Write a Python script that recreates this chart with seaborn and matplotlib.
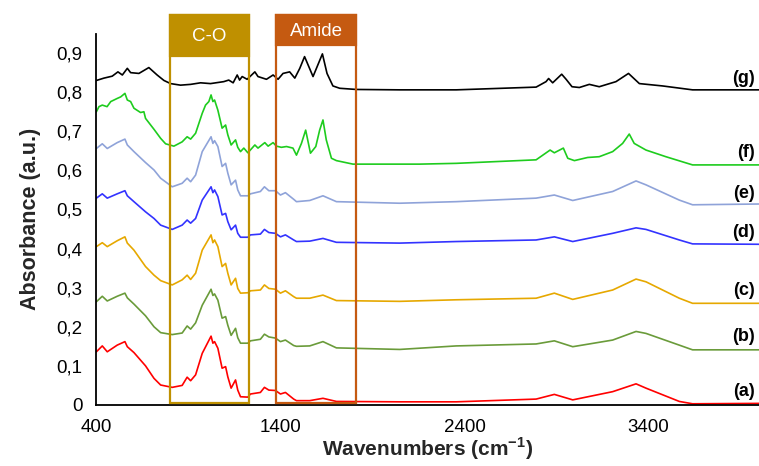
import matplotlib
matplotlib.use("Agg")
import matplotlib.pyplot as plt
import numpy as np
import pandas as pd
import seaborn as sns
from matplotlib.patches import Rectangle

# ---------------- data ----------------
WN_ABCDE = [400, 432, 459, 513, 555, 568, 604, 667, 713, 749, 812, 866, 893, 912,
            939, 975, 1023, 1033, 1042, 1060, 1083, 1102, 1114, 1132, 1156, 1168,
            1183, 1223, 1237, 1291, 1313, 1337, 1373, 1400, 1427, 1472, 1487, 1559,
            1631, 1704, 2048, 2355, 2789, 2888, 2988, 3205, 3332, 3386, 3567, 3639,
            4000]

A_VALS = [0.136, 0.151, 0.136, 0.153, 0.162, 0.149, 0.134, 0.100, 0.068, 0.051,
          0.045, 0.050, 0.071, 0.062, 0.077, 0.132, 0.176, 0.158, 0.162, 0.145,
          0.094, 0.098, 0.072, 0.043, 0.064, 0.038, 0.021, 0.020, 0.028, 0.032,
          0.045, 0.038, 0.037, 0.028, 0.032, 0.015, 0.011, 0.011, 0.017, 0.009,
          0.008, 0.008, 0.015, 0.027, 0.013, 0.034, 0.054, 0.043, 0.009, 0.003,
          0.004]

B_VALS = [0.264, 0.278, 0.266, 0.278, 0.286, 0.274, 0.258, 0.228, 0.200, 0.185,
          0.180, 0.184, 0.202, 0.194, 0.210, 0.255, 0.296, 0.280, 0.284, 0.268,
          0.222, 0.226, 0.204, 0.178, 0.196, 0.172, 0.158, 0.158, 0.164, 0.168,
          0.181, 0.174, 0.171, 0.162, 0.166, 0.152, 0.150, 0.151, 0.162, 0.146,
          0.142, 0.151, 0.156, 0.164, 0.149, 0.166, 0.188, 0.183, 0.153, 0.141,
          0.141]

C_VALS = [0.405, 0.415, 0.405, 0.420, 0.430, 0.414, 0.396, 0.354, 0.332, 0.318,
          0.307, 0.320, 0.332, 0.321, 0.337, 0.396, 0.435, 0.415, 0.422, 0.405,
          0.354, 0.362, 0.337, 0.307, 0.324, 0.298, 0.286, 0.287, 0.292, 0.294,
          0.307, 0.298, 0.296, 0.286, 0.292, 0.277, 0.273, 0.273, 0.281, 0.267,
          0.265, 0.269, 0.273, 0.286, 0.270, 0.294, 0.322, 0.315, 0.273, 0.260,
          0.260]

D_VALS = [0.529, 0.540, 0.529, 0.540, 0.548, 0.535, 0.520, 0.494, 0.477, 0.460,
          0.449, 0.460, 0.473, 0.465, 0.477, 0.524, 0.558, 0.543, 0.550, 0.533,
          0.486, 0.490, 0.469, 0.448, 0.460, 0.439, 0.429, 0.429, 0.435, 0.437,
          0.449, 0.441, 0.439, 0.430, 0.435, 0.422, 0.418, 0.419, 0.426, 0.416,
          0.414, 0.418, 0.422, 0.430, 0.418, 0.439, 0.453, 0.449, 0.422, 0.412,
          0.411]

E_VALS = [0.656, 0.668, 0.656, 0.671, 0.680, 0.665, 0.648, 0.620, 0.601, 0.580,
          0.558, 0.567, 0.580, 0.571, 0.588, 0.648, 0.686, 0.669, 0.676, 0.661,
          0.610, 0.618, 0.593, 0.563, 0.575, 0.550, 0.535, 0.535, 0.540, 0.546,
          0.558, 0.548, 0.548, 0.537, 0.543, 0.526, 0.520, 0.523, 0.535, 0.520,
          0.516, 0.520, 0.529, 0.537, 0.523, 0.546, 0.573, 0.563, 0.524, 0.512,
          0.514]

WN_F = [400, 414, 432, 458, 478, 513, 532, 555, 568, 586, 604, 640, 658, 667, 713,
        749, 776, 821, 866, 893, 912, 939, 975, 993, 1011, 1023, 1033, 1042, 1060,
        1083, 1102, 1114, 1132, 1156, 1168, 1183, 1201, 1223, 1261, 1278, 1315,
        1333, 1360, 1378, 1405, 1433, 1468, 1487, 1514, 1537, 1563, 1592, 1613,
        1631, 1649, 1677, 1704, 1794, 2048, 2156, 2355, 2789, 2865, 2888, 2937,
        2961, 2997, 3069, 3132, 3205, 3259, 3295, 3322, 3386, 3494, 3639, 4000]
F_VALS = [0.750, 0.763, 0.767, 0.763, 0.776, 0.784, 0.788, 0.797, 0.780, 0.776,
          0.759, 0.748, 0.750, 0.733, 0.705, 0.682, 0.668, 0.662, 0.673, 0.686,
          0.680, 0.695, 0.746, 0.767, 0.776, 0.793, 0.776, 0.780, 0.754, 0.708,
          0.716, 0.691, 0.665, 0.678, 0.659, 0.648, 0.657, 0.645, 0.665, 0.657,
          0.671, 0.662, 0.671, 0.662, 0.659, 0.661, 0.657, 0.639, 0.669, 0.703,
          0.644, 0.661, 0.703, 0.729, 0.678, 0.631, 0.625, 0.616, 0.616, 0.616,
          0.618, 0.627, 0.652, 0.645, 0.657, 0.631, 0.625, 0.633, 0.635, 0.648,
          0.669, 0.693, 0.669, 0.652, 0.635, 0.614, 0.614]

WN_G = [400, 441, 486, 517, 541, 568, 586, 631, 685, 730, 767, 803, 857, 912, 966,
        1020, 1092, 1119, 1143, 1165, 1178, 1192, 1219, 1261, 1278, 1324, 1360,
        1387, 1414, 1450, 1478, 1505, 1531, 1577, 1599, 1628, 1653, 1685, 1722,
        1812, 2048, 2355, 2789, 2843, 2857, 2879, 2928, 2952, 2984, 3024, 3078,
        3132, 3223, 3291, 3350, 3476, 3639, 4000]
G_VALS = [0.830, 0.836, 0.841, 0.852, 0.844, 0.861, 0.850, 0.848, 0.863, 0.844,
          0.830, 0.822, 0.818, 0.820, 0.824, 0.822, 0.827, 0.831, 0.824, 0.844,
          0.831, 0.840, 0.833, 0.852, 0.840, 0.833, 0.844, 0.833, 0.848, 0.852,
          0.836, 0.861, 0.891, 0.840, 0.865, 0.898, 0.848, 0.816, 0.810, 0.807,
          0.806, 0.806, 0.813, 0.827, 0.835, 0.824, 0.846, 0.833, 0.814, 0.812,
          0.820, 0.814, 0.827, 0.848, 0.822, 0.816, 0.806, 0.806]

SAMPLES = ["(a)", "(b)", "(c)", "(d)", "(e)", "(f)", "(g)"]
LABEL_Y = [0.034, 0.174, 0.294, 0.442, 0.542, 0.645, 0.836]

X_TICKS = [400, 1400, 2400, 3400]
Y_TICKS = [0, 0.1, 0.2, 0.3, 0.4, 0.5, 0.6, 0.7, 0.8, 0.9]
Y_TICK_LABELS = ["0", "0,1", "0,2", "0,3", "0,4", "0,5", "0,6", "0,7", "0,8", "0,9"]

REGIONS = ["C-O", "Amide"]
REGION_X = [(798, 1231), (1375, 1812)]

# ---------------- style ----------------
COLORS = ["#FF0000", "#6A9B3A", "#E6A800", "#3333FF", "#8FA3D9", "#1ECC1E", "#000000"]
REGION_COLORS = ["#BF9000", "#C55A11"]
REGION_HDR_BOTTOM = [0.893, 0.921]
REGION_TOP = 0.997

sns.set_theme(style="white")
plt.rcParams["font.family"] = ["Liberation Sans", "DejaVu Sans"]
plt.rcParams["mathtext.fontset"] = "custom"
plt.rcParams["mathtext.rm"] = "Liberation Sans"
plt.rcParams["mathtext.bf"] = "Liberation Sans:bold"

series_x = [WN_ABCDE] * 5 + [WN_F, WN_G]
series_y = [A_VALS, B_VALS, C_VALS, D_VALS, E_VALS, F_VALS, G_VALS]
frames = []
for name, xs, ys in zip(SAMPLES, series_x, series_y):
    frames.append(pd.DataFrame({"wn": xs, "abs": ys, "sample": name}))
df = pd.concat(frames, ignore_index=True)

fig = plt.figure(figsize=(7.59, 4.66), dpi=100)
ax = fig.add_axes([0.127, 0.131, 0.873, 0.797])

sns.lineplot(data=df, x="wn", y="abs", hue="sample", hue_order=SAMPLES,
             palette=dict(zip(SAMPLES, COLORS)), estimator=None, sort=False,
             linewidth=1.2, legend=False, ax=ax)

ax.set_xlim(400, 4000)
ax.set_ylim(0, 0.95)
ax.set_xticks(X_TICKS)
ax.set_xticklabels([str(t) for t in X_TICKS])
ax.set_yticks(Y_TICKS)
ax.set_yticklabels(Y_TICK_LABELS)

for s in ["top", "right"]:
    ax.spines[s].set_visible(False)
for s in ["left", "bottom"]:
    ax.spines[s].set_color("black")
    ax.spines[s].set_linewidth(1.3)
ax.tick_params(axis="both", direction="out", length=5, width=1.2, color="black",
               labelsize=13.5, labelcolor="black")
ax.tick_params(axis="x", pad=5)
ax.tick_params(axis="y", pad=5)

ax.set_xlabel(r"Wavenumbers (cm$^{\mathbf{-1}}$)", fontsize=15, fontweight="bold",
              labelpad=0)
ax.set_ylabel("Absorbance (a.u.)", fontsize=15.5, fontweight="bold", labelpad=11)

for name, (x0, x1), col, hb in zip(REGIONS, REGION_X, REGION_COLORS, REGION_HDR_BOTTOM):
    ax.add_patch(Rectangle((x0, 0.005), x1 - x0, REGION_TOP - 0.005, fill=False,
                           edgecolor=col, linewidth=1.6, zorder=5, clip_on=False))
    ax.add_patch(Rectangle((x0, hb), x1 - x0, REGION_TOP - hb, facecolor=col,
                           edgecolor=col, linewidth=1.6, zorder=6, clip_on=False))
    ax.text((x0 + x1) / 2, (hb + REGION_TOP) / 2 - 0.003, name, color="white",
            fontsize=13.5, ha="center", va="center", zorder=7, clip_on=False)

for name, y in zip(SAMPLES, LABEL_Y):
    ax.text(3978, y, name, ha="right", va="center", fontsize=13, fontweight="bold",
            color="black", zorder=8)

fig.savefig("out.png", dpi=100)
